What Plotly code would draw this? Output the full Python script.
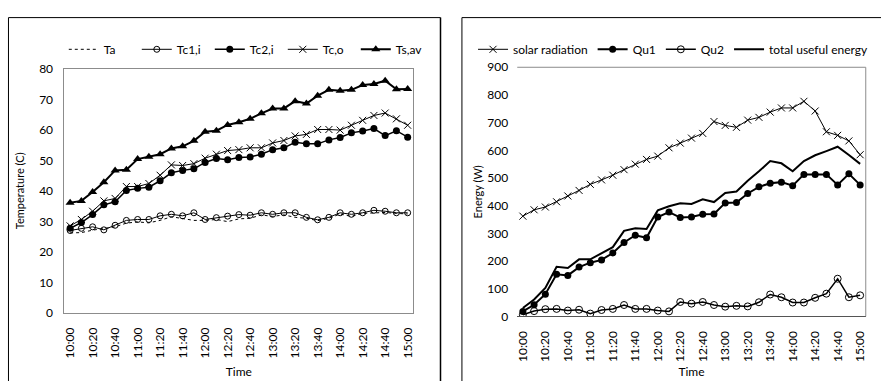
import plotly.graph_objects as go

# Time of day, one reading every 10 minutes
times = ["10:00", "10:10", "10:20", "10:30", "10:40", "10:50",
         "11:00", "11:10", "11:20", "11:30", "11:40", "11:50",
         "12:00", "12:10", "12:20", "12:30", "12:40", "12:50",
         "13:00", "13:10", "13:20", "13:30", "13:40", "13:50",
         "14:00", "14:10", "14:20", "14:30", "14:40", "14:50", "15:00"]
tick_times = times[::2]

# Temperatures (C)
ta = [26.2, 26.3, 27.1, 27.6, 28.2, 29.4, 29.8, 29.5, 30.3, 31.5, 30.8, 30.3, 30.3, 30.6, 29.9, 30.8,
      31.0, 32.1, 31.6, 32.1, 31.3, 31.0, 30.2, 31.0, 32.4, 31.6, 32.6, 32.8, 32.9, 32.6, 32.4]
tc1_i = [27.0, 27.7, 28.2, 27.2, 28.7, 30.3, 30.6, 30.6, 31.8, 32.3, 31.8, 32.8, 30.6, 31.2, 31.7, 32.2,
         32.0, 32.8, 32.3, 32.8, 32.8, 31.3, 30.5, 31.3, 32.8, 32.3, 32.8, 33.6, 33.3, 32.8, 32.8]
tc2_i = [27.7, 29.6, 32.2, 35.4, 36.4, 40.1, 40.8, 41.2, 43.3, 45.9, 46.7, 47.2, 49.3, 50.6, 50.2, 50.9,
         51.1, 52.0, 53.5, 54.1, 55.9, 55.4, 55.4, 56.7, 57.5, 59.0, 59.6, 60.4, 58.1, 59.7, 57.6]
tc_o = [28.5, 30.6, 33.3, 36.7, 37.5, 41.4, 41.4, 42.4, 45.1, 48.5, 48.3, 48.9, 50.7, 52.0, 53.2, 53.5,
        54.1, 54.1, 55.7, 56.5, 58.0, 58.5, 60.1, 60.1, 59.9, 61.5, 63.1, 64.7, 65.5, 63.6, 61.5]
ts_av = [36.1, 36.7, 39.6, 42.8, 46.7, 46.9, 50.4, 51.2, 52.0, 53.9, 54.6, 56.4, 59.4, 59.7, 61.6, 62.5,
         63.6, 65.4, 67.0, 67.0, 69.4, 68.6, 71.2, 73.1, 72.8, 73.1, 74.7, 75.0, 76.1, 73.3, 73.4]

# Energy (W)
solar = [362, 385, 395, 414, 435, 455, 477, 493, 510, 530, 550, 567, 579, 609, 626, 644,
         661, 704, 690, 683, 709, 719, 738, 753, 753, 777, 742, 667, 654, 634, 584]
qu1 = [18, 42, 80, 152, 148, 178, 194, 204, 229, 267, 293, 284, 359, 377, 357, 359,
       369, 370, 410, 411, 444, 468, 481, 485, 472, 513, 513, 513, 475, 515, 475]
qu2 = [6, 19, 26, 27, 21, 24, 10, 23, 27, 41, 27, 27, 21, 18, 52, 46,
       52, 41, 35, 38, 36, 51, 79, 69, 50, 50, 67, 82, 136, 69, 76]
total = [30, 61, 103, 179, 175, 206, 206, 227, 250, 309, 318, 316, 383, 398, 409, 406,
         423, 413, 446, 451, 490, 524, 561, 553, 524, 561, 582, 597, 613, 583, 551]

W, H = 882, 381
FONT = "Lato"
GRAY = "#8c8c8c"

def px(x):
    return x / W

def py(y):
    return 1 - y / H

fig = go.Figure()

# ---- left panel: temperatures ----
fig.add_trace(go.Scatter(x=times, y=ta, name="Ta", mode="lines",
                         line=dict(color="black", width=1, dash="dot"),
                         xaxis="x", yaxis="y", legend="legend"))
fig.add_trace(go.Scatter(x=times, y=tc1_i, name="Tc1,i", mode="lines+markers",
                         line=dict(color="black", width=1),
                         marker=dict(symbol="circle-open", size=6, color="black", line=dict(width=1)),
                         xaxis="x", yaxis="y", legend="legend"))
fig.add_trace(go.Scatter(x=times, y=tc2_i, name="Tc2,i", mode="lines+markers",
                         line=dict(color="black", width=1.5),
                         marker=dict(symbol="circle", size=7, color="black"),
                         xaxis="x", yaxis="y", legend="legend"))
fig.add_trace(go.Scatter(x=times, y=tc_o, name="Tc,o", mode="lines+markers",
                         line=dict(color="black", width=1),
                         marker=dict(symbol="x-thin", size=7, color="black", line=dict(width=1, color="black")),
                         xaxis="x", yaxis="y", legend="legend"))
fig.add_trace(go.Scatter(x=times, y=ts_av, name="Ts,av", mode="lines+markers",
                         line=dict(color="black", width=2),
                         marker=dict(symbol="triangle-up", size=8, color="black"),
                         xaxis="x", yaxis="y", legend="legend"))

# ---- right panel: energy ----
fig.add_trace(go.Scatter(x=times, y=solar, name="solar radiation", mode="lines+markers",
                         line=dict(color="black", width=1),
                         marker=dict(symbol="x-thin", size=7, color="black", line=dict(width=1, color="black")),
                         xaxis="x2", yaxis="y2", legend="legend2"))
fig.add_trace(go.Scatter(x=times, y=qu1, name="Qu1", mode="lines+markers",
                         line=dict(color="black", width=2),
                         marker=dict(symbol="circle", size=7, color="black"),
                         xaxis="x2", yaxis="y2", legend="legend2"))
fig.add_trace(go.Scatter(x=times, y=qu2, name="Qu2", mode="lines+markers",
                         line=dict(color="black", width=1.5),
                         marker=dict(symbol="circle-open", size=7, color="black", line=dict(width=1)),
                         xaxis="x2", yaxis="y2", legend="legend2"))
fig.add_trace(go.Scatter(x=times, y=total, name="total useful energy", mode="lines",
                         line=dict(color="black", width=2),
                         xaxis="x2", yaxis="y2", legend="legend2"))

tickfont = dict(family=FONT, size=12, color="black")
xcommon = dict(type="category", range=[-0.5, 30.5], tickmode="array",
               tickvals=tick_times, ticktext=tick_times, tickangle=-90,
               tickfont=tickfont, showgrid=False, zeroline=False,
               ticks="", ticklabelstandoff=9, fixedrange=True)

fig.update_layout(
    width=W, height=H,
    margin=dict(l=0, r=0, t=0, b=0),
    paper_bgcolor="white", plot_bgcolor="white",
    font=dict(family=FONT, size=12, color="black"),
    xaxis=dict(**xcommon, domain=[px(62.7), px(412.7)], anchor="y",
               showline=True, linecolor=GRAY, linewidth=1, mirror=True,
               title=dict(text="Time", font=dict(family=FONT, size=12), standoff=10)),
    yaxis=dict(domain=[py(317.3), py(63.3)], anchor="x", range=[0, 80], dtick=10,
               tickfont=tickfont, showgrid=False, zeroline=False,
               showline=True, linecolor=GRAY, linewidth=1, mirror=True,
               ticks="", ticklabelstandoff=8,
               title=dict(text="Temperature (C)", font=dict(family=FONT, size=11), standoff=12)),
    xaxis2=dict(**xcommon, domain=[px(517), px(866.7)], anchor="y2",
                showline=True, linecolor="#555555", linewidth=1,
                title=dict(text="Time", font=dict(family=FONT, size=12), standoff=6)),
    yaxis2=dict(domain=[py(321), py(61.7)], anchor="x2", range=[0, 900], dtick=100,
                tickfont=tickfont, showgrid=False, zeroline=False,
                showline=False, ticks="", ticklabelstandoff=8,
                title=dict(text="Energy (W)", font=dict(family=FONT, size=11), standoff=2)),
    legend=dict(orientation="h", x=px(62), y=py(43), xanchor="left", yanchor="middle",
                entrywidth=28, entrywidthmode="pixels",
                font=dict(family=FONT, size=12), bgcolor="rgba(0,0,0,0)",
                tracegroupgap=0, itemclick=False),
    legend2=dict(orientation="h", x=px(874), y=py(43), xanchor="right", yanchor="middle",
                 font=dict(family=FONT, size=12), bgcolor="rgba(0,0,0,0)",
                 tracegroupgap=0, itemclick=False),
    showlegend=True,
)

# chart frames and the open plot-area edges of the right panel
shapes = [
    dict(type="line", xref="paper", yref="paper", x0=px(6.5), x1=px(6.5), y0=-0.1, y1=py(10), line=dict(color="black", width=1)),
    dict(type="line", xref="paper", yref="paper", x0=px(6.5), x1=px(440), y0=py(10), y1=py(10), line=dict(color="black", width=1)),
    dict(type="line", xref="paper", yref="paper", x0=px(440), x1=px(440), y0=-0.1, y1=py(10), line=dict(color="black", width=1.5)),
    dict(type="line", xref="paper", yref="paper", x0=px(461.5), x1=px(461.5), y0=-0.1, y1=py(10), line=dict(color="black", width=1)),
    dict(type="line", xref="paper", yref="paper", x0=px(461.5), x1=1.0, y0=py(10), y1=py(10), line=dict(color="black", width=1)),
    dict(type="line", xref="x2 domain", yref="y2 domain", x0=0, x1=1, y0=1, y1=1, line=dict(color=GRAY, width=1)),
    dict(type="line", xref="x2 domain", yref="y2 domain", x0=1, x1=1, y0=0, y1=1, line=dict(color=GRAY, width=1)),
]
fig.update_layout(shapes=shapes)

fig.write_html("out.html")
